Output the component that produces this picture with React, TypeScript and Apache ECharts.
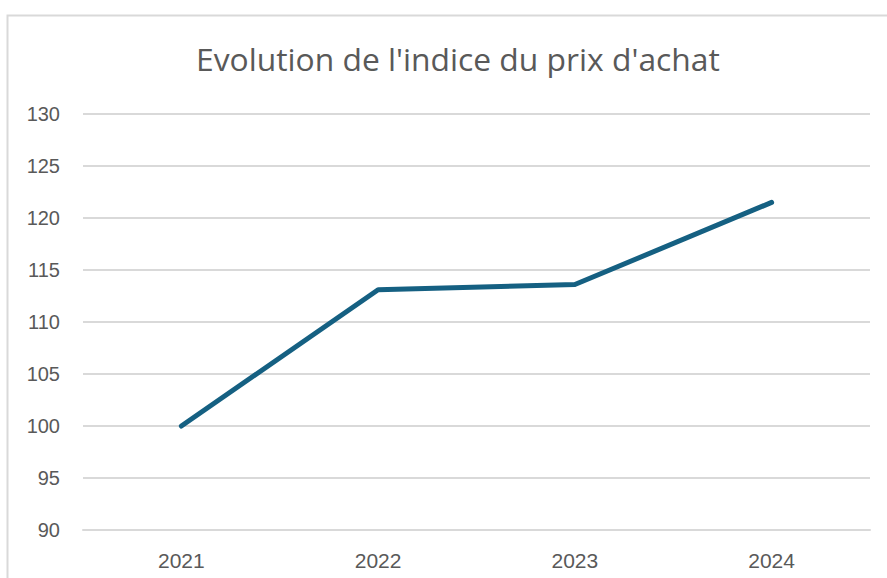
import React, { useEffect, useRef } from "react";
import * as echarts from "echarts";

const categories = ["2021", "2022", "2023", "2024"];
const values = [100, 113.1, 113.6, 121.5];
const yTicks = { min: 90, max: 130, interval: 5 };
const titleText = "Evolution de l'indice du prix d'achat";

export default function App() {
  const ref = useRef<HTMLDivElement>(null);
  useEffect(() => {
    document.body.style.margin = "0";
    const chart = echarts.init(ref.current!, null, { renderer: "svg" });
    chart.setOption({
      animation: false,
      backgroundColor: "#ffffff",
      title: {
        text: titleText,
        left: 191,
        top: 37,
        textStyle: { color: "#595959", fontSize: 31.8, fontWeight: "normal", fontFamily: "Open Sans" },
      },
      graphic: [
        {
          type: "rect",
          shape: { x: 7.5, y: 15.5, width: 900, height: 600 },
          style: { fill: "none", stroke: "#d9d9d9", lineWidth: 2 },
          silent: true,
          z: 0,
        },
      ],
      grid: { left: 83, right: 17, top: 114, bottom: 48, containLabel: false },
      xAxis: {
        type: "category",
        data: categories,
        boundaryGap: true,
        axisLine: { show: true, lineStyle: { color: "#d9d9d9", width: 2 } },
        axisTick: { show: false },
        axisLabel: { color: "#595959", fontSize: 21, fontFamily: "Liberation Sans", margin: 20 },
      },
      yAxis: {
        type: "value",
        min: yTicks.min,
        max: yTicks.max,
        interval: yTicks.interval,
        axisLine: { show: false },
        axisTick: { show: false },
        splitLine: { lineStyle: { color: "#d9d9d9", width: 2 } },
        axisLabel: { color: "#595959", fontSize: 20, fontFamily: "Liberation Sans", margin: 23 },
      },
      series: [
        {
          type: "line",
          data: values,
          symbol: "none",
          lineStyle: { color: "#156082", width: 5, cap: "round", join: "round" },
        },
      ],
    });
    return () => chart.dispose();
  }, []);
  return <div ref={ref} style={{ position: "absolute", left: 0, top: 0, width: 887, height: 578 }} />;
}
